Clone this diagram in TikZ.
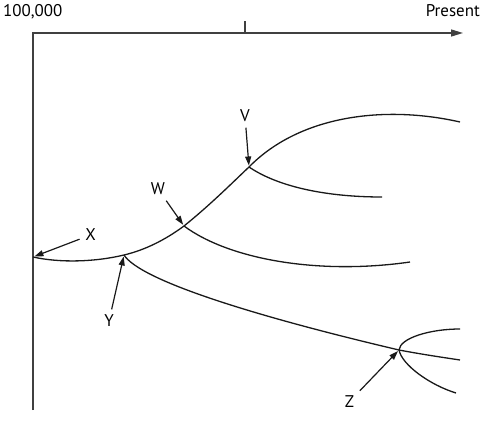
\documentclass[tikz,border=0pt]{standalone}
\usepackage{fontspec}
\setmainfont{PT Sans}
\usetikzlibrary{arrows.meta}

\begin{document}
\begin{tikzpicture}[x=1bp,y=-1bp,
    axe/.style={line width=1.4bp, black!75},
    branche/.style={line width=1.3bp, black!90},
    fleche/.style={line width=1.2bp, black!90, -{Triangle[length=9bp,width=6bp]}, shorten >=1.5bp},
    lettre/.style={font=\fontsize{17}{20}\selectfont, inner sep=5.5bp}]
    \useasboundingbox (0,0) rectangle (481,447);

    % Axes
    \coordinate (O) at (33,33);
    \coordinate (T) at (463,33);
    \coordinate (B) at (33,410);
    \coordinate (G) at (245,33);
    \draw[axe, -{Triangle[length=12bp,width=7bp]}] (B) -- (O) -- (T);
    \draw[axe] (G) -- ++(0,-11.5);

    % Etiquettes des axes
    \node[lettre, inner sep=0, anchor=base west] (debut) at (3,16.5) {100,000};
    \node[lettre, inner sep=0, anchor=base east] (present) at (480,16.5) {Present};

    % Points de branchement
    \coordinate (X) at (33,257);
    \coordinate (Y) at (124,255);
    \coordinate (W) at (184,226);
    \coordinate (V) at (249,167);
    \coordinate (Z) at (399,350);

    % Extremites des branches
    \coordinate (haut) at (460,122);
    \coordinate (finV) at (382,197);
    \coordinate (finW) at (410,262);
    \coordinate (finY) at (460,360);
    \coordinate (finZh) at (460,329);
    \coordinate (finZb) at (456,393);

    % Tronc principal
    \draw[branche] (X) .. controls (60,263) and (95,262) .. (Y)
        .. controls (145,250) and (165,240) .. (W)
        .. controls (210,205) and (230,185) .. (V)
        .. controls (300,115) and (385,105) .. (haut);

    % Branches
    \draw[branche] (V) .. controls (280,188) and (330,197) .. (finV);
    \draw[branche] (W) .. controls (230,260) and (320,275) .. (finW);
    \draw[branche] (Y) .. controls (140,280) and (250,315) .. (Z)
        .. controls (420,354) and (440,357) .. (finY);
    \draw[branche] (finZh) .. controls (430,329) and (400,338) .. (Z)
        .. controls (402,365) and (430,385) .. (finZb);

    % Lettres et fleches
    \node[lettre] (lX) at (90.5,235) {X};
    \node[lettre] (lW) at (158,189) {W};
    \node[lettre] (lY) at (109,321) {Y};
    \node[lettre] (lV) at (245,116) {V};
    \node[lettre] (lZ) at (349.5,401.5) {Z};
    \draw[fleche] (lX) -- (X);
    \draw[fleche] (lW) -- (W);
    \draw[fleche] (lY) -- (Y);
    \draw[fleche] (lV) -- (V);
    \draw[fleche] (lZ) -- (Z);

\end{tikzpicture}
\end{document}
